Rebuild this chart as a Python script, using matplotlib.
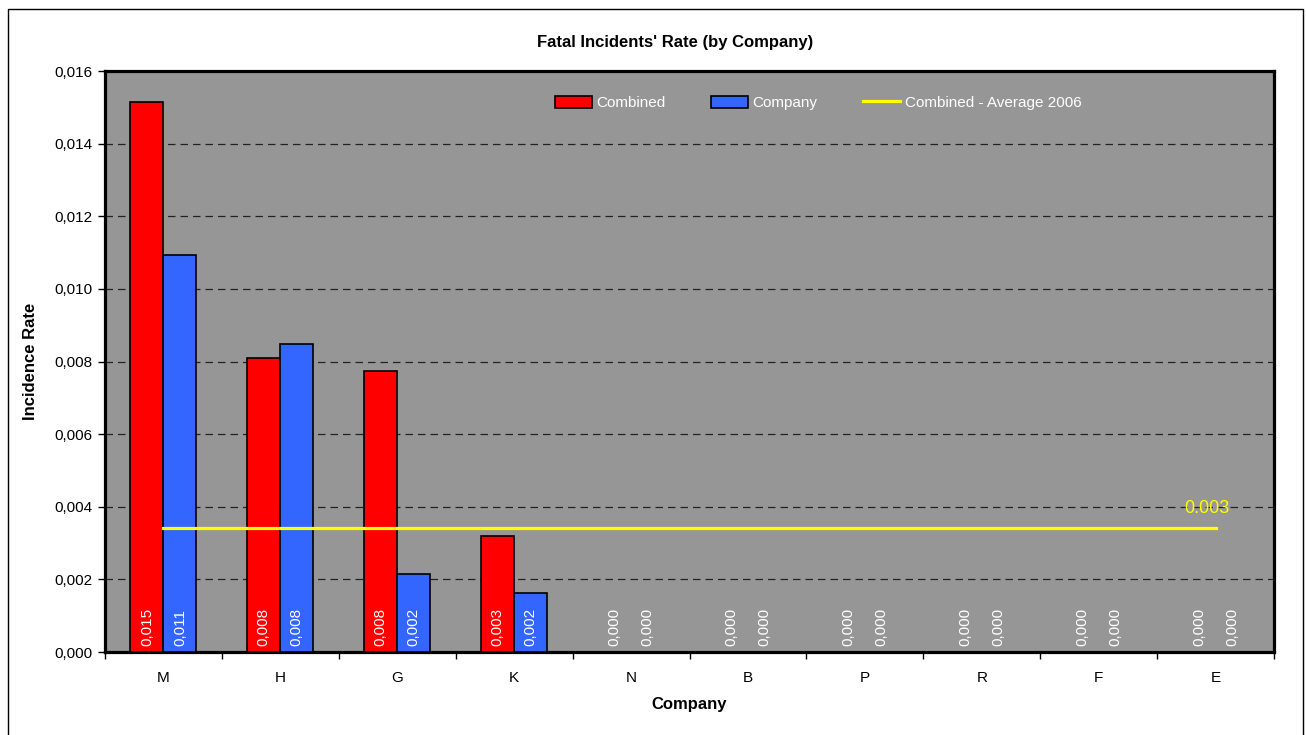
import matplotlib
matplotlib.use("Agg")
import matplotlib.pyplot as plt
import numpy as np
from matplotlib.patches import Rectangle
from matplotlib.ticker import FixedLocator, FuncFormatter

plt.rcParams['font.family'] = ['Liberation Sans Narrow', 'Liberation Sans', 'DejaVu Sans']

companies = ["M", "H", "G", "K", "N", "B", "P", "R", "F", "E"]
combined = [0.01515, 0.00810, 0.00774, 0.00319, 0, 0, 0, 0, 0, 0]
company = [0.01093, 0.00848, 0.00215, 0.00162, 0, 0, 0, 0, 0, 0]
combined_avg_2006 = 0.00341
y_ticks = [0.000, 0.002, 0.004, 0.006, 0.008, 0.010, 0.012, 0.014, 0.016]

W, H = 1306, 735
fig = plt.figure(figsize=(W / 100, H / 100), dpi=100)
fig.patch.set_facecolor("white")

# outer chart border
fig.add_artist(Rectangle((8 / W, -0.02), (1303 - 8) / W, 1 - 9 / H + 0.02,
                         transform=fig.transFigure, fill=False,
                         edgecolor="black", lw=1.0))

ax = fig.add_axes([105 / W, 1 - 652 / H, (1274 - 105) / W, (652 - 71) / H])
ax.set_facecolor("#969696")

x = np.arange(len(companies))
bw = 0.282
bars_c = ax.bar(x - bw / 2, combined, bw, color="#ff0000", edgecolor="black",
                lw=1.2, label="Combined", zorder=3)
bars_p = ax.bar(x + bw / 2, company, bw, color="#3366ff", edgecolor="black",
                lw=1.2, label="Company", zorder=3)

avg_line, = ax.plot([x[0], x[-1]], [combined_avg_2006] * 2, color="#ffff00",
                    lw=2.3, label="Combined - Average 2006", zorder=4)
ax.annotate(f"{combined_avg_2006:.3f}", xy=(x[-1], combined_avg_2006),
            xytext=(-6, 8), textcoords="offset points", ha="center",
            va="bottom", color="#ffff00", fontsize=13, zorder=5)

def comma(v, _=None):
    return f"{v:.3f}".replace(".", ",")

for bars, vals in ((bars_c, combined), (bars_p, company)):
    for b, v in zip(bars, vals):
        ax.annotate(comma(v), xy=(b.get_x() + b.get_width() / 2, 0),
                    xytext=(0, 4), textcoords="offset points", rotation=90,
                    ha="center", va="bottom", color="white", fontsize=11,
                    zorder=6)

ax.set_xlim(-0.5, len(companies) - 0.5)
ax.set_ylim(0, 0.016)
ax.yaxis.set_major_locator(FixedLocator(y_ticks))
ax.yaxis.set_major_formatter(FuncFormatter(comma))
ax.set_xticks(x)
ax.set_xticklabels(companies)
ax.set_xticks(np.arange(-0.5, len(companies)), minor=True)
ax.tick_params(axis="x", which="major", length=0, pad=14, labelsize=11)
ax.tick_params(axis="x", which="minor", length=5, width=1, direction="out")
ax.tick_params(axis="y", length=5, width=1, direction="out", labelsize=11, pad=4)

ax.grid(axis="y", color="#222222", lw=0.9, linestyle=(0, (6, 4)), zorder=1)
ax.set_axisbelow(True)
for s in ax.spines.values():
    s.set_linewidth(2.3)
    s.set_color("black")

ax.set_xlabel("Company", fontsize=12, fontweight="bold", labelpad=8)
ax.set_ylabel("Incidence Rate", fontsize=12, fontweight="bold", labelpad=12)
fig.text(675 / W, 1 - 42 / H, "Fatal Incidents' Rate (by Company)",
         ha="center", va="center", fontsize=12, fontweight="bold")

leg = ax.legend(handles=[bars_c, bars_p, avg_line], ncol=3, loc="center",
                bbox_to_anchor=(0.61, 0.945), frameon=False, fontsize=11,
                handlelength=2.4, handleheight=0.8, handletextpad=0.3,
                columnspacing=3.0, labelcolor="white")

fig.savefig("out.png", dpi=100, facecolor="white")
